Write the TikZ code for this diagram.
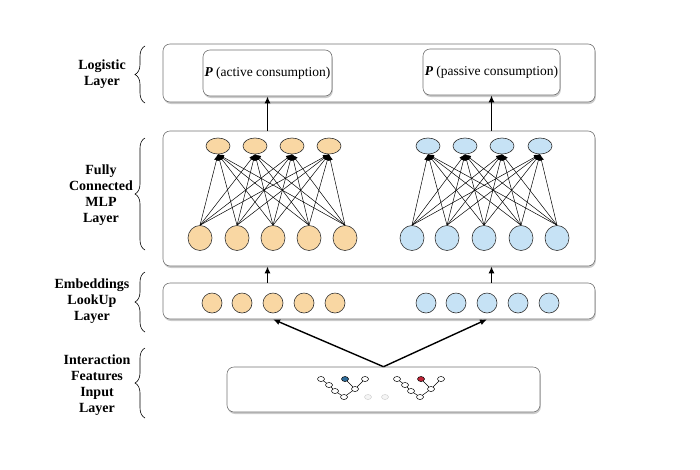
\documentclass[tikz,border=0pt]{standalone}
\usepackage{fontspec}
\setmainfont{Liberation Serif}
\usetikzlibrary{arrows.meta,shadows,shapes.geometric,decorations.pathreplacing}

\definecolor{peach}{HTML}{F9D7A3}
\definecolor{skyblue}{HTML}{C6E2F5}
\definecolor{leafblue}{HTML}{2F6E9C}
\definecolor{leafred}{HTML}{BF2436}

\begin{document}
\begin{tikzpicture}[x=1pt,y=-1pt,
	layerbox/.style={draw=black!55, line width=0.6pt, fill=white, rounded corners=7pt, inner sep=0pt,
		drop shadow={shadow xshift=0.8pt, shadow yshift=-2pt, fill=black!45, opacity=0.45}},
	probbox/.style={layerbox, font=\fontsize{13.5}{15}\selectfont},
	layerlabel/.style={align=center, font=\fontsize{14}{16}\selectfont\bfseries},
	layerbrace/.style={decorate, decoration={brace, amplitude=10pt}, line width=0.6pt},
	flow/.style={line width=1.4pt, -{Latex[length=7pt,width=6pt]}},
	edge/.style={line width=0.5pt, -{Latex[length=6pt,width=5pt]}},
	unit/.style={ellipse, draw=black!80, line width=0.6pt, inner sep=0pt},
	topunit/.style={unit, minimum width=24pt, minimum height=16pt},
	botunit/.style={unit, minimum width=24pt, minimum height=25pt},
	embunit/.style={unit, minimum width=20pt, minimum height=20pt},
	treenode/.style={ellipse, draw, fill=white, line width=0.5pt, inner sep=0pt, minimum width=7pt, minimum height=5pt},
	dotnode/.style={ellipse, draw=black!18, fill=black!4, line width=0.5pt, inner sep=0pt, minimum width=7pt, minimum height=5pt}]
	\useasboundingbox (0,0) rectangle (700,469);
	
	% layer boxes
	\node[layerbox, minimum width=432pt, minimum height=58pt] (logistic) at (379,73) {};
	\node[layerbox, minimum width=432pt, minimum height=135pt] (mlp) at (379,198.5) {};
	\node[layerbox, minimum width=432pt, minimum height=36pt] (emb) at (379,301) {};
	\node[layerbox, minimum width=313pt, minimum height=45pt] (input) at (383.5,389.5) {};
	
	\node[probbox, minimum width=129pt, minimum height=46pt] (active) at (267.5,73) {{\bfseries\itshape P} (active consumption)};
	\node[probbox, minimum width=137pt, minimum height=46pt] (passive) at (491.5,72) {{\bfseries\itshape P} (passive consumption)};
	
	% labels and braces
	\node[layerlabel] (loglabel) at (102,74) {Logistic\\Layer};
	\node[layerlabel] (mlplabel) at (101,195) {Fully\\Connected\\MLP\\Layer};
	\node[layerlabel] (emblabel) at (92,301) {Embeddings\\LookUp\\Layer};
	\node[layerlabel] (inputlabel) at (97,385) {Interaction\\Features\\Input\\Layer};
	\draw[layerbrace] (145,103) -- (145,46);
	\draw[layerbrace] (145,250) -- (145,138);
	\draw[layerbrace] (145,332) -- (145,272);
	\draw[layerbrace] (145,418) -- (145,348);
	
	% MLP units
	\foreach \x [count=\i] in {218,255,292,329}
		\node[topunit, fill=peach] (ta\i) at (\x,146) {};
	\foreach \x [count=\i] in {428,465,502,540}
		\node[topunit, fill=skyblue] (tb\i) at (\x,146) {};
	\foreach \x [count=\i] in {200,237,273,309,345}
		\node[botunit, fill=peach] (ba\i) at (\x,238) {};
	\foreach \x [count=\i] in {412,447,484,521,557}
		\node[botunit, fill=skyblue] (bb\i) at (\x,238) {};
	\foreach \i in {1,...,5}
		\foreach \j in {1,...,4} {
			\draw[edge] (ba\i.north) -- (ta\j.south);
			\draw[edge] (bb\i.north) -- (tb\j.south);
		}
	
	% embedding units
	\foreach \x [count=\i] in {212,242,273,304,335}
		\node[embunit, fill=peach] (ea\i) at (\x,303) {};
	\foreach \x [count=\i] in {426,456,487,518,549}
		\node[embunit, fill=skyblue] (eb\i) at (\x,303) {};
	
	% interaction trees
	\foreach \dx/\c/\n in {0/leafblue/l, 76/leafred/r} {
		\begin{scope}[shift={(\dx,0)}]
		\node[treenode] (\n1) at (321,379) {};
		\node[treenode] (\n2) at (329,385) {};
		\node[treenode] (\n3) at (335,391) {};
		\node[treenode] (\n4) at (344,397) {};
		\node[treenode] (\n5) at (355,389) {};
		\node[treenode, fill=\c] (\n6) at (345,379) {};
		\node[treenode] (\n7) at (365,379) {};
		\draw[line width=0.5pt] (\n1) -- (\n2) -- (\n3) -- (\n4) -- (\n5) -- (\n6);
		\draw[line width=0.5pt] (\n5) -- (\n7);
		\end{scope}
	}
	\node[dotnode] (dot1) at (368,397) {};
	\node[dotnode] (dot2) at (385,397) {};
	
	% flow between layers
	\draw[flow] (input.north) -- (emb.south -| ea3);
	\draw[flow] (input.north) -- (emb.south -| eb3);
	\draw[flow] (emb.north -| active.south) -- (mlp.south -| active.south);
	\draw[flow] (emb.north -| passive.south) -- (mlp.south -| passive.south);
	\draw[flow] (mlp.north -| active.south) -- (active.south);
	\draw[flow] (mlp.north -| passive.south) -- (passive.south);
\end{tikzpicture}
\end{document}
